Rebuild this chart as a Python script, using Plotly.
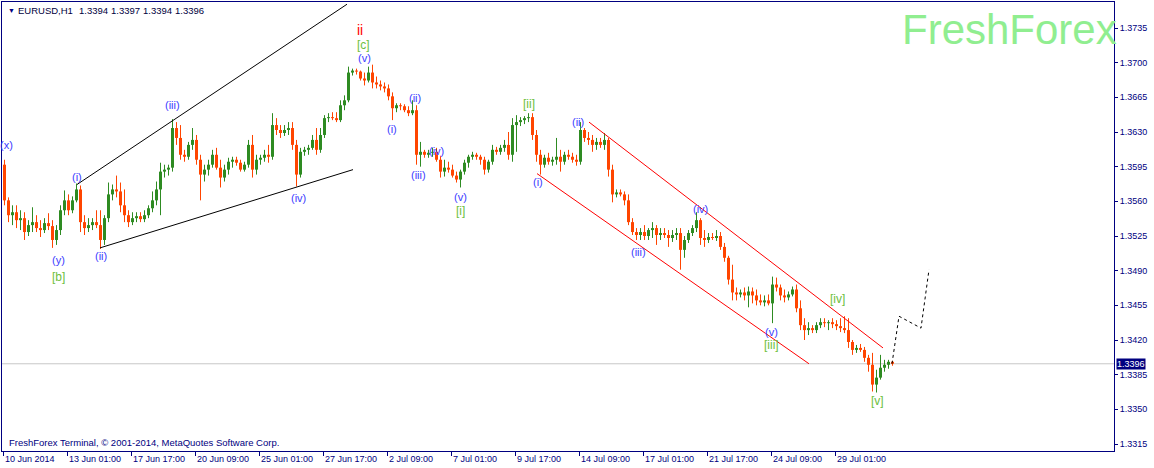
import plotly.graph_objects as go

# ---------------- data (EURUSD H1, aggregated to 4-hour candles) ----------------
start_open = 1.3597
close = [1.3561,1.3546,1.3549,1.3541,1.3543,1.3529,1.3536,1.3539,1.3533,1.3531,
         1.3538,1.3535,1.3521,1.3531,1.3551,1.3561,1.3551,1.3561,1.3572,1.3539,
         1.3533,1.3536,1.3539,1.3536,1.3521,1.3543,1.3567,1.3572,1.3570,1.3556,
         1.3546,1.3539,1.3543,1.3545,1.3542,1.3546,1.3553,1.3561,1.3572,1.3590,
         1.3592,1.3594,1.3634,1.3624,1.3607,1.3605,1.3617,1.3622,1.3602,1.3587,
         1.3592,1.3597,1.3607,1.3594,1.3584,1.3592,1.3600,1.3602,1.3599,1.3592,
         1.3597,1.3617,1.3592,1.3602,1.3604,1.3607,1.3605,1.3637,1.3632,1.3629,
         1.3632,1.3634,1.3617,1.3587,1.3610,1.3612,1.3614,1.3622,1.3612,1.3627,
         1.3644,1.3645,1.3644,1.3642,1.3657,1.3662,1.3690,1.3692,1.3691,1.3684,
         1.3682,1.3690,1.3680,1.3678,1.3676,1.3674,1.3666,1.3654,1.3657,1.3656,
         1.3652,1.3649,1.3652,1.3607,1.3610,1.3607,1.3609,1.3610,1.3602,1.3590,
         1.3594,1.3592,1.3586,1.3582,1.3590,1.3599,1.3605,1.3607,1.3605,1.3602,
         1.3592,1.3600,1.3612,1.3610,1.3614,1.3617,1.3607,1.3637,1.3640,1.3642,
         1.3644,1.3645,1.3627,1.3607,1.3597,1.3604,1.3600,1.3602,1.3605,1.3600,
         1.3607,1.3605,1.3602,1.3600,1.3632,1.3624,1.3622,1.3617,1.3620,1.3617,
         1.3622,1.3592,1.3567,1.3569,1.3567,1.3561,1.3539,1.3529,1.3526,1.3529,
         1.3525,1.3531,1.3533,1.3526,1.3528,1.3526,1.3523,1.3526,1.3528,1.3511,
         1.3521,1.3528,1.3533,1.3541,1.3523,1.3521,1.3524,1.3523,1.3525,1.3514,
         1.3503,1.3481,1.3468,1.3466,1.3468,1.3465,1.3469,1.3465,1.3460,1.3458,
         1.3460,1.3457,1.3476,1.3473,1.3465,1.3463,1.3466,1.3471,1.3452,1.3435,
         1.3430,1.3432,1.3430,1.3435,1.3438,1.3437,1.3438,1.3436,1.3434,1.3432,
         1.3430,1.3418,1.3410,1.3412,1.3410,1.3402,1.3395,1.3375,1.3382,1.3392,
         1.3395,1.3398,1.3396]
high = [1.3602,1.3564,1.3556,1.3556,1.3551,1.3549,1.3541,1.3554,1.3546,1.3541,
        1.3543,1.3548,1.3541,1.3536,1.3556,1.3571,1.3567,1.3565,1.3578,1.3576,
        1.3546,1.3543,1.3543,1.3551,1.3551,1.3546,1.3579,1.3577,1.3586,1.3579,
        1.3572,1.3551,1.3549,1.3549,1.3549,1.3551,1.3556,1.3570,1.3580,1.3599,
        1.3597,1.3597,1.3643,1.3640,1.3637,1.3612,1.3620,1.3634,1.3627,1.3607,
        1.3597,1.3602,1.3612,1.3614,1.3602,1.3597,1.3604,1.3605,1.3605,1.3602,
        1.3600,1.3622,1.3627,1.3607,1.3607,1.3612,1.3617,1.3649,1.3644,1.3637,
        1.3637,1.3640,1.3640,1.3622,1.3614,1.3615,1.3617,1.3627,1.3634,1.3634,
        1.3647,1.3649,1.3650,1.3650,1.3662,1.3667,1.3696,1.3694,1.3694,1.3692,
        1.3690,1.3696,1.3698,1.3686,1.3682,1.3680,1.3678,1.3670,1.3659,1.3659,
        1.3658,1.3656,1.3662,1.3657,1.3620,1.3612,1.3612,1.3614,1.3614,1.3606,
        1.3602,1.3600,1.3597,1.3590,1.3592,1.3602,1.3607,1.3610,1.3609,1.3607,
        1.3605,1.3602,1.3617,1.3615,1.3617,1.3622,1.3630,1.3644,1.3647,1.3645,
        1.3646,1.3649,1.3649,1.3632,1.3612,1.3607,1.3609,1.3605,1.3624,1.3612,
        1.3610,1.3612,1.3609,1.3607,1.3640,1.3634,1.3630,1.3627,1.3624,1.3624,
        1.3629,1.3624,1.3597,1.3572,1.3572,1.3570,1.3567,1.3543,1.3533,1.3533,
        1.3536,1.3533,1.3539,1.3536,1.3533,1.3533,1.3531,1.3531,1.3533,1.3533,
        1.3525,1.3531,1.3536,1.3549,1.3543,1.3531,1.3528,1.3528,1.3531,1.3529,
        1.3518,1.3505,1.3496,1.3473,1.3471,1.3473,1.3474,1.3473,1.3471,1.3466,
        1.3465,1.3466,1.3484,1.3483,1.3476,1.3471,1.3469,1.3474,1.3476,1.3460,
        1.3442,1.3438,1.3435,1.3438,1.3442,1.3442,1.3440,1.3442,1.3440,1.3442,
        1.3444,1.3442,1.3420,1.3415,1.3416,1.3413,1.3405,1.3407,1.3390,1.3405,
        1.3400,1.3400,1.3399]
low = [1.3556,1.3539,1.3536,1.3533,1.3531,1.3521,1.3525,1.3529,1.3529,1.3524,
       1.3528,1.3531,1.3513,1.3516,1.3526,1.3546,1.3546,1.3548,1.3559,1.3529,
       1.3526,1.3529,1.3531,1.3533,1.3512,1.3516,1.3539,1.3561,1.3564,1.3549,
       1.3539,1.3534,1.3536,1.3539,1.3539,1.3539,1.3543,1.3549,1.3556,1.3546,
       1.3584,1.3586,1.3590,1.3617,1.3602,1.3600,1.3602,1.3612,1.3597,1.3561,
       1.3580,1.3586,1.3594,1.3592,1.3574,1.3580,1.3587,1.3594,1.3596,1.3590,
       1.3590,1.3594,1.3584,1.3587,1.3597,1.3600,1.3599,1.3602,1.3627,1.3624,
       1.3626,1.3627,1.3612,1.3575,1.3584,1.3606,1.3607,1.3612,1.3607,1.3609,
       1.3624,1.3640,1.3642,1.3640,1.3640,1.3652,1.3660,1.3687,1.3688,1.3682,
       1.3677,1.3680,1.3674,1.3674,1.3672,1.3670,1.3662,1.3642,1.3650,1.3652,
       1.3650,1.3646,1.3647,1.3597,1.3595,1.3604,1.3604,1.3605,1.3600,1.3584,
       1.3585,1.3589,1.3584,1.3579,1.3574,1.3587,1.3594,1.3602,1.3602,1.3597,
       1.3587,1.3589,1.3597,1.3607,1.3607,1.3610,1.3602,1.3600,1.3610,1.3636,
       1.3638,1.3640,1.3622,1.3600,1.3587,1.3594,1.3597,1.3596,1.3597,1.3590,
       1.3597,1.3602,1.3599,1.3596,1.3597,1.3620,1.3617,1.3610,1.3612,1.3614,
       1.3612,1.3585,1.3559,1.3564,1.3565,1.3556,1.3536,1.3526,1.3521,1.3521,
       1.3521,1.3521,1.3523,1.3516,1.3521,1.3523,1.3514,1.3519,1.3521,1.3491,
       1.3503,1.3518,1.3525,1.3529,1.3516,1.3514,1.3518,1.3521,1.3520,1.3511,
       1.3499,1.3476,1.3460,1.3460,1.3463,1.3460,1.3453,1.3457,1.3455,1.3455,
       1.3454,1.3455,1.3437,1.3469,1.3460,1.3458,1.3460,1.3464,1.3448,1.3430,
       1.3420,1.3425,1.3427,1.3427,1.3432,1.3433,1.3430,1.3432,1.3430,1.3428,
       1.3427,1.3412,1.3405,1.3407,1.3408,1.3398,1.3388,1.3368,1.3367,1.3380,
       1.3388,1.3391,1.3394]
bars_per_candle = 4

x_tick_bars = [0, 64, 128, 192, 256, 320, 384, 448, 512, 576, 640, 704, 768, 832]
x_tick_labels = ["10 Jun 2014", "13 Jun 01:00", "17 Jun 17:00", "20 Jun 09:00",
                 "25 Jun 01:00", "27 Jun 17:00", "2 Jul 09:00", "7 Jul 01:00",
                 "9 Jul 17:00", "14 Jul 09:00", "17 Jul 01:00", "21 Jul 17:00",
                 "24 Jul 09:00", "29 Jul 01:00"]
y_ticks = [1.3315, 1.3350, 1.3385, 1.3420, 1.3455, 1.3490, 1.3525,
           1.3560, 1.3595, 1.3630, 1.3665, 1.3700, 1.3735]
last_price = 1.3396
symbol = "EURUSD,H1"
last_bar_ohlc = ["1.3394", "1.3397", "1.3394", "1.3396"]

# Elliott wave labels: (text, bar, price, kind)
wave_labels = [
    ("(x)", 3, 1.3617, "minor"), ("(y)", 55, 1.3501, "minor"), ("[b]", 55, 1.3484, "minute"),
    ("(i)", 74, 1.3585, "minor"), ("(ii)", 98, 1.3505, "minor"), ("(iii)", 169, 1.3657, "minor"),
    ("(iv)", 295, 1.3563, "minor"), ("ii", 357, 1.3733, "intermediate"), ("[c]", 360, 1.3718, "minute"),
    ("(v)", 361, 1.3705, "minor"), ("(i)", 389, 1.3633, "minor"), ("(ii)", 412, 1.3664, "minor"),
    ("(iii)", 415, 1.3587, "minor"), ("(iv)", 433, 1.3611, "minor"), ("(v)", 457, 1.3564, "minor"),
    ("[i]", 457, 1.3550, "minute"), ("[ii]", 526, 1.3658, "minute"), ("(i)", 535, 1.3580, "minor"),
    ("(ii)", 575, 1.3640, "minor"), ("(iii)", 635, 1.3509, "minor"), ("(iv)", 697, 1.3552, "minor"),
    ("(v)", 768, 1.3428, "minor"), ("[iii]", 768, 1.3415, "minute"), ("[iv]", 834, 1.3461, "minute"),
    ("[v]", 874, 1.3358, "minute"),
]
# trend lines: (bars, prices, colour, dash)
trend_lines = [
    ([74, 344], [1.3577, 1.3759], "black", "solid"),
    ([97, 350], [1.3513, 1.3592], "black", "solid"),
    ([534, 806], [1.3588, 1.3396], "#FF0000", "solid"),
    ([586, 880], [1.3640, 1.3412], "#FF0000", "solid"),
    ([889, 896, 918, 926], [1.3396, 1.3444, 1.3432, 1.3491], "black", "3px,3px"),
]

# ---------------- figure ----------------
NAVY = "#000080"
UP = "#2E8B22"
DOWN = "#FF4500"
FONT = "Liberation Sans, Arial, sans-serif"
W, H = 1154, 468
ML, MR, MT, MB = 2, 40, 2, 17
PW, PH = W - ML - MR, H - MT - MB


def px_x(px):
    """paper x coordinate from a page pixel"""
    return (px - ML) / PW


def px_y(py):
    """paper y coordinate from a page pixel"""
    return 1 - (py - MT) / PH


opens = [start_open] + close[:-1]
groups = {"up": ([], [], [], []), "down": ([], [], [], []), "doji": ([], [], [], [])}
for i, (o, h, l, c) in enumerate(zip(opens, high, low, close)):
    xc = i * bars_per_candle + (bars_per_candle - 1) / 2
    key = "up" if c > o else ("down" if c < o else "doji")
    wx, wy, bx, by = groups[key]
    wx += [xc, xc, None]
    wy += [min(l, o, c), max(h, o, c), None]
    bx += [xc, xc, None]
    by += [o, c, None]

colors = {"up": UP, "down": DOWN, "doji": "black"}
fig = go.Figure()
for key, (wx, wy, bx, by) in groups.items():
    if not wx:
        continue
    fig.add_trace(go.Scatter(x=wx, y=wy, mode="lines", line=dict(color=colors[key], width=1),
                             hoverinfo="skip", showlegend=False))
    fig.add_trace(go.Scatter(x=bx, y=by, mode="lines", line=dict(color=colors[key], width=3),
                             hoverinfo="skip", showlegend=False))

for xs, ys, col, dash in trend_lines:
    fig.add_trace(go.Scatter(x=xs, y=ys, mode="lines", line=dict(color=col, width=1, dash=dash),
                             hoverinfo="skip", showlegend=False, cliponaxis=True))

# current price line
fig.add_shape(type="line", xref="paper", x0=0, x1=1, yref="y", y0=last_price, y1=last_price,
              line=dict(color="#C8C8C8", width=1), layer="below")

annotations = []
label_style = {
    "minor": dict(color="#3C3CFF", size=11),
    "minute": dict(color="#6CC040", size=12),
    "intermediate": dict(color="#FF0000", size=14),
}
for text, bar, price, kind in wave_labels:
    st = label_style[kind]
    annotations.append(dict(x=bar, y=price, xref="x", yref="y", text=text, showarrow=False,
                            font=dict(family=FONT, size=st["size"], color=st["color"]),
                            xanchor="center", yanchor="middle"))

for b, lab in zip(x_tick_bars, x_tick_labels):
    annotations.append(dict(x=b, y=0, xref="x", yref="paper", text=lab, showarrow=False,
                            xanchor="left", yanchor="top", xshift=0, yshift=-1,
                            font=dict(family=FONT, size=9, color=NAVY)))

annotations.append(dict(x=1, y=last_price, xref="paper", yref="y", text=f"{last_price:.4f}",
                        showarrow=False, xanchor="left", yanchor="middle", xshift=2,
                        bgcolor=NAVY, borderpad=0,
                        font=dict(family=FONT, size=9, color="white")))

# header line: symbol + OHLC of the last bar
head_y = px_y(10)
annotations.append(dict(x=px_x(6), y=head_y, xref="paper", yref="paper", text="▼",
                        showarrow=False, xanchor="left", yanchor="middle",
                        font=dict(family=FONT, size=7, color=NAVY)))
annotations.append(dict(x=px_x(16), y=head_y, xref="paper", yref="paper", text=symbol,
                        showarrow=False, xanchor="left", yanchor="middle",
                        font=dict(family=FONT, size=9.5, color="#000040")))
for k, val in enumerate(last_bar_ohlc):
    annotations.append(dict(x=px_x(77 + 32 * k), y=head_y, xref="paper", yref="paper", text=val,
                            showarrow=False, xanchor="left", yanchor="middle",
                            font=dict(family=FONT, size=9.5, color="#000040")))

annotations.append(dict(x=px_x(7), y=px_y(442), xref="paper", yref="paper",
                        text="FreshForex Terminal, © 2001-2014, MetaQuotes Software Corp.",
                        showarrow=False, xanchor="left", yanchor="middle",
                        font=dict(family=FONT, size=9.5, color=NAVY)))
annotations.append(dict(x=px_x(900), y=px_y(29), xref="paper", yref="paper", text="FreshForex",
                        showarrow=False, xanchor="left", yanchor="middle",
                        font=dict(family=FONT, size=42, color="#90EE90")))

fig.update_layout(
    width=W, height=H,
    margin=dict(l=ML, r=MR, t=MT, b=MB, pad=0),
    paper_bgcolor="white", plot_bgcolor="white",
    showlegend=False,
    annotations=annotations,
    xaxis=dict(range=[-1, 1111], showgrid=False, zeroline=False, showline=True, mirror=True,
               linecolor=NAVY, linewidth=1, ticks="outside", ticklen=4, tickcolor=NAVY,
               tickvals=x_tick_bars, showticklabels=False, fixedrange=True),
    yaxis=dict(range=[1.330794, 1.376125], side="right", showgrid=False, zeroline=False,
               showline=True, mirror=True, linecolor=NAVY, linewidth=1,
               ticks="outside", ticklen=3, tickcolor=NAVY,
               tickvals=y_ticks, ticktext=[f"{v:.4f}" for v in y_ticks],
               tickfont=dict(family=FONT, size=9, color=NAVY), fixedrange=True),
)

fig.write_html(
    "out.html",
    config={"displayModeBar": False},
    post_script="document.body.style.margin='0';document.body.style.overflow='hidden';",
)
